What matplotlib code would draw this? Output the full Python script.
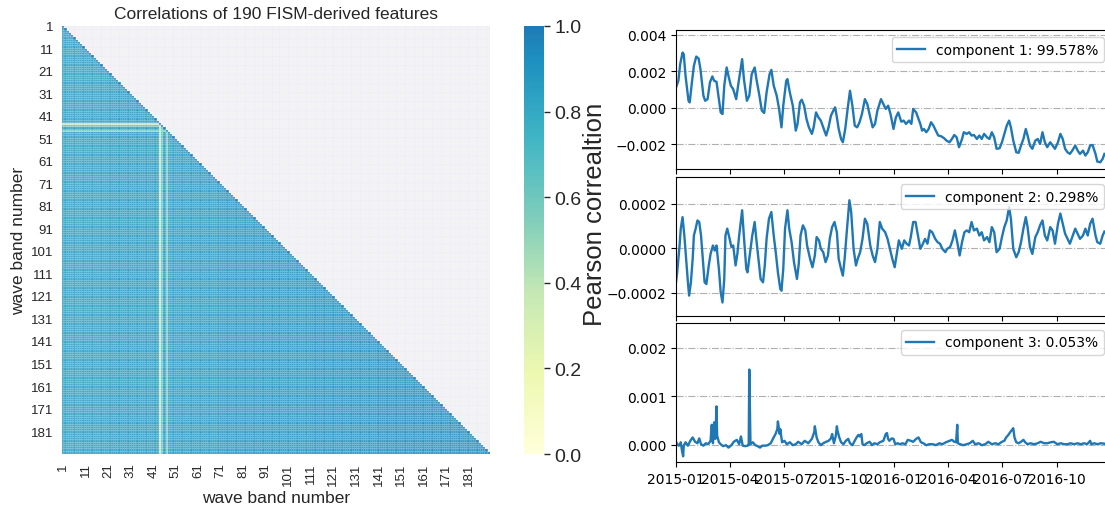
import numpy as np
import pandas as pd
import matplotlib
matplotlib.use("Agg")
import matplotlib.pyplot as plt
import matplotlib.dates as mdates
from matplotlib.colors import ListedColormap
import seaborn as sns

# ---------------- data ----------------
n_bands = 190
band_labels = list(range(1, n_bands + 1))
# correlation level for each block of 10 wave bands (1-10, 11-20, ...)
group_level = [0.86, 0.87, 0.88, 0.88, 0.88, 0.89, 0.89, 0.90, 0.90, 0.91,
               0.91, 0.92, 0.92, 0.92, 0.93, 0.93, 0.93, 0.94, 0.94]
# bands that correlate poorly with the rest
weak_bands = [44, 45, 47]
weak_level = [0.40, 0.65, 0.58]

# PCA components, days after 2015-01-01
comp1_days = [0, 4, 7, 11, 13, 16, 21, 23, 27, 30, 34, 38, 41, 46, 49, 53, 57, 61, 64, 68,
              72, 75, 78, 81, 85, 88, 92, 96, 101, 105, 111, 114, 119, 123, 127, 132, 135, 140, 144, 148,
              152, 157, 160, 164, 169, 173, 177, 180, 185, 187, 191, 196, 201, 204, 208, 211, 215, 219, 223, 228,
              231, 235, 239, 243, 247, 252, 256, 260, 264, 267, 270, 273, 277, 280, 284, 288, 292, 296, 300, 304,
              308, 312, 317, 321, 326, 330, 334, 338, 344, 348, 352, 356, 360, 365, 369, 373, 378, 382, 386, 391,
              395, 398, 403, 406, 410, 413, 416, 420, 424, 428, 432, 436, 440, 445, 450, 454, 459, 463, 467, 471,
              475, 480, 483, 488, 492, 496, 500, 505, 509, 513, 517, 522, 526, 530, 534, 538, 543, 547, 551, 555,
              559, 562, 566, 571, 575, 579, 583, 587, 590, 594, 598, 603, 607, 611, 615, 619, 623, 628, 632, 636,
              641, 645, 649, 653, 657, 661, 665, 670, 674, 678, 683, 687, 691, 695, 699, 704, 707, 712, 716, 719]
comp1_vals = [1.11, 1.48, 2.39, 3.03, 2.94, 1.75, 0.38, 0.29, 1.48, 2.30, 2.81, 2.70, 2.12, 0.66, 0.38, 0.47, 1.39, 1.72, 1.48, 1.42,
              0.47, -0.26, -0.35, 1.21, 2.21, 1.75, 1.21, 1.02, 0.47, 1.39, 2.67, 1.57, 0.38, 0.66, 1.84, 2.21, 1.57, 0.66, -0.16, -0.29,
              0.84, 1.84, 2.08, 1.21, 0.66, -0.07, -1.08, 0.11, 1.48, 1.57, 0.84, 0.11, -1.26, -0.89, 0.29, 0.44, 0.11, -0.62, -1.08, -1.44,
              -1.08, -0.26, -0.53, -0.71, -1.08, -1.53, -1.08, -0.44, -0.16, 0.02, -0.53, -1.17, -1.72, -1.90, -1.17, -0.07, 0.93, 0.11, -0.99, -1.08,
              -0.80, -0.35, 0.47, 0.20, -0.53, -1.08, -0.89, -0.16, 0.47, 0.20, -0.07, 0.11, -0.35, -1.17, -0.53, -0.26, -0.77, -0.71, -0.89, -0.71,
              -0.89, -0.07, -0.26, -0.53, -0.89, -1.26, -1.17, -1.35, -1.17, -0.80, -0.99, -1.26, -1.53, -1.57, -1.68, -1.81, -1.90, -1.72, -1.50, -1.63,
              -2.17, -1.72, -1.35, -1.44, -1.35, -1.53, -1.50, -1.72, -1.53, -1.72, -1.44, -1.63, -1.72, -1.35, -1.63, -2.26, -2.23, -1.90, -1.44, -0.99,
              -0.71, -1.08, -1.81, -2.45, -2.48, -2.08, -1.72, -1.17, -1.53, -2.08, -2.26, -1.81, -1.72, -1.99, -1.35, -1.90, -2.17, -1.90, -2.08, -2.26,
              -1.90, -1.44, -1.72, -2.26, -2.45, -2.54, -2.36, -2.08, -2.36, -2.54, -2.36, -2.63, -2.45, -2.08, -2.05, -2.54, -2.96, -3.00, -2.81, -2.54]

comp2_days = [0, 2, 6, 8, 11, 14, 17, 20, 22, 25, 28, 30, 33, 36, 39, 42, 45, 48, 51, 55,
              58, 62, 65, 68, 72, 75, 78, 81, 83, 86, 90, 93, 96, 100, 103, 106, 111, 114, 118, 120,
              124, 128, 132, 135, 139, 142, 146, 149, 152, 156, 160, 164, 168, 171, 175, 177, 180, 183, 187, 190,
              194, 198, 203, 206, 209, 213, 217, 220, 225, 229, 233, 236, 240, 243, 247, 251, 255, 258, 262, 266,
              270, 273, 277, 280, 283, 287, 291, 294, 298, 302, 305, 309, 313, 317, 321, 326, 330, 334, 338, 342,
              346, 351, 355, 359, 363, 367, 371, 374, 379, 383, 387, 391, 394, 398, 402, 406, 410, 413, 418, 422,
              426, 430, 435, 439, 443, 447, 452, 455, 460, 464, 468, 472, 476, 480, 484, 488, 492, 496, 500, 505,
              509, 513, 517, 522, 526, 530, 534, 538, 543, 547, 551, 555, 559, 562, 566, 571, 575, 579, 583, 587,
              590, 594, 598, 603, 607, 611, 615, 619, 623, 628, 632, 636, 641, 645, 649, 653, 657, 661, 665, 670,
              674, 678, 683, 687, 691, 695, 699, 704, 707, 712, 716, 719]
comp2_vals = [-1.54, -1.09, 0.12, 0.88, 1.40, 0.57, -0.48, -1.54, -2.14, -1.54, -0.48, 0.57, 0.88, 1.25, 1.18, 0.57, -0.48, -1.54, -1.62, -0.78,
              -0.26, 0.12, -0.11, 0.12, -0.94, -1.99, -2.45, -1.39, 0.57, 0.88, 0.42, 0.05, 0.12, -0.78, -0.26, 0.57, 1.71, 0.50, -0.94, -1.09,
              -0.26, 0.57, 1.18, 0.35, -0.63, -1.39, -1.54, -0.78, 0.42, 1.33, 1.63, 0.57, -0.33, -1.09, -1.84, -1.92, -0.94, 0.88, 1.71, 0.88,
              0.27, -0.63, -1.39, -0.71, 0.57, 1.03, 0.80, 0.12, -0.48, -0.86, -0.33, 0.50, 0.35, -0.03, -0.18, -0.63, -0.33, 0.42, 0.95, 1.18,
              0.72, -0.48, -0.94, -1.24, -0.48, 0.88, 2.16, 1.63, -0.03, -0.78, -0.48, -0.18, 0.42, 1.33, 1.10, 0.12, -0.33, -0.63, -0.03, 1.18,
              0.88, 0.72, 0.42, -0.03, -0.48, -0.86, -0.18, 0.35, -0.03, 0.35, 0.20, 0.12, 0.50, 1.18, 1.18, 0.57, -0.03, 0.12, 0.42, 0.20,
              0.80, 0.72, 0.42, 0.27, 0.20, -0.03, -0.18, -0.03, 0.05, 0.35, 0.80, 0.27, -0.33, 0.27, 0.72, 0.80, 0.72, 1.18, 0.80, 0.88,
              0.57, 0.72, 0.35, 0.50, 0.27, 0.95, 0.72, -0.18, -0.03, 0.50, 0.95, 1.25, 1.86, 1.33, -0.03, -0.41, -0.18, 0.27, 0.88, 1.40,
              0.95, 0.05, -0.26, 0.50, 0.72, 1.03, 1.25, 0.57, 0.35, 0.95, 0.80, 0.20, 1.10, 1.56, 1.10, 0.65, 0.42, 0.20, 0.50, 0.88,
              0.65, 0.42, 0.57, 0.88, 0.57, 1.10, 1.33, 0.57, 0.27, 0.20, 0.57, 0.75]

comp3_days = [0, 2, 5, 8, 10, 12, 13, 16, 20, 24, 28, 32, 36, 39, 42, 46, 50, 54, 58, 60,
              62, 64, 66, 68, 69, 72, 75, 79, 84, 88, 93, 97, 102, 106, 109, 112, 116, 120, 122, 123,
              125, 129, 133, 137, 141, 145, 150, 154, 159, 163, 167, 170, 171, 174, 175, 178, 182, 186, 191, 196,
              201, 205, 211, 216, 222, 228, 232, 233, 236, 239, 243, 247, 252, 256, 260, 262, 265, 268, 270, 271,
              274, 277, 281, 285, 289, 292, 296, 300, 303, 306, 308, 311, 313, 316, 320, 325, 329, 333, 338, 342,
              348, 352, 354, 356, 358, 362, 365, 368, 372, 376, 380, 385, 389, 394, 398, 403, 407, 411, 415, 420,
              425, 431, 436, 442, 447, 453, 459, 463, 467, 470, 472, 473, 477, 482, 488, 493, 498, 502, 508, 513,
              519, 524, 530, 536, 541, 547, 551, 554, 557, 561, 566, 568, 571, 575, 579, 583, 586, 590, 595, 601,
              607, 612, 618, 623, 629, 634, 640, 646, 651, 657, 662, 668, 674, 679, 685, 690, 695, 697, 702, 707,
              713, 719]
comp3_vals = [0.06, 0.01, -0.02, 0.05, -0.12, -0.24, -0.02, 0.05, -0.02, 0.08, 0.15, 0.06, 0.03, 0.13, 0.01, -0.02, 0.03, 0.01, 0.08, 0.41,
              0.03, 0.46, 0.12, 0.79, 0.19, 0.05, 0.01, -0.03, -0.01, -0.06, -0.01, 0.06, 0.10, 0.01, 0.17, -0.02, -0.03, -0.02, -0.01, 1.55,
              0.01, 0.05, -0.01, -0.03, -0.06, -0.02, -0.02, -0.01, 0.03, 0.13, 0.22, 0.32, 0.48, 0.22, 0.32, 0.05, 0.08, 0.01, 0.05, -0.01,
              0.01, 0.06, 0.01, 0.08, 0.03, 0.12, 0.26, 0.38, 0.15, 0.05, -0.01, 0.03, 0.06, 0.08, 0.13, 0.22, 0.03, 0.17, 0.38, 0.29,
              0.15, 0.05, 0.01, 0.08, 0.12, 0.03, -0.01, 0.08, 0.15, 0.20, 0.17, 0.22, 0.01, -0.01, 0.03, 0.06, -0.01, 0.03, 0.01, 0.05,
              0.08, 0.22, 0.24, 0.12, 0.08, 0.13, 0.12, 0.01, 0.03, 0.01, 0.03, 0.01, 0.10, 0.08, 0.06, 0.12, 0.15, 0.05, 0.03, -0.01,
              0.01, 0.01, -0.01, 0.03, 0.01, 0.05, 0.08, 0.10, 0.06, 0.05, 0.41, 0.03, 0.01, -0.01, 0.01, 0.03, 0.08, 0.01, 0.03, -0.01,
              0.01, 0.06, 0.01, 0.03, 0.01, 0.06, 0.08, 0.15, 0.19, 0.26, 0.34, 0.15, 0.05, 0.03, 0.06, 0.10, 0.05, 0.01, 0.03, 0.01,
              0.03, 0.06, 0.03, 0.03, 0.05, 0.06, 0.01, 0.03, 0.01, 0.01, 0.03, 0.01, 0.03, 0.01, 0.03, 0.01, 0.08, 0.01, 0.03, 0.01,
              0.03, 0.02]

legend_labels = ["component 1: 99.578%", "component 2: 0.298%", "component 3: 0.053%"]

# ---------------- correlation matrix ----------------
level = np.repeat(group_level, 10)[:n_bands].astype(float)
for b, v in zip(weak_bands, weak_level):
    level[b - 1] = v
corr = np.minimum.outer(level, level)
np.fill_diagonal(corr, 1.0)
corr_df = pd.DataFrame(corr, index=band_labels, columns=band_labels)
mask = np.triu(np.ones_like(corr, dtype=bool), k=1)

cmap = ListedColormap(plt.cm.YlGnBu(np.linspace(0, 0.68, 256)))

fig = plt.figure(figsize=(11.05, 5.10), dpi=100)
ax = fig.add_axes([62 / 1105, 1 - 455 / 510, 428 / 1105, 428 / 510])
cax = fig.add_axes([524 / 1105, 1 - 455 / 510, 20 / 1105, 428 / 510])
ax.set_facecolor("#EAEAF2")

# thin half-transparent white cell borders give the plaid look
sns.heatmap(corr_df, mask=mask, cmap=cmap, vmin=0, vmax=1, linewidths=0.1,
            linecolor=(1, 1, 1, 0.15), ax=ax, cbar_ax=cax, square=False,
            xticklabels=10, yticklabels=10)

lab_font = "Liberation Sans"
ax.set_title("Correlations of 190 FISM-derived features", fontsize=12.5,
             family=lab_font, color="#262626", pad=6)
ax.set_xlabel("wave band number", fontsize=12.5, family=lab_font, color="#262626")
ax.set_ylabel("wave band number", fontsize=12.5, family=lab_font, color="#262626")
ax.tick_params(length=0, pad=6, labelsize=9.5, colors="#262626")
plt.setp(ax.get_xticklabels(), rotation=90, family=lab_font)
plt.setp(ax.get_yticklabels(), rotation=0, family=lab_font)

cax.tick_params(labelsize=14, colors="#262626", length=4, width=1)
plt.setp(cax.get_yticklabels(), family=lab_font)
cax.set_ylabel("Pearson correaltion", fontsize=18.5, family=lab_font, color="#262626")
cax.yaxis.set_label_coords(2.95, 0.563)

# ---------------- PCA component series ----------------
start = pd.Timestamp("2015-01-01")
series = [
    (comp1_days, np.array(comp1_vals) * 1e-3, (-0.00337, 0.00427), [-0.002, 0.0, 0.002, 0.004]),
    (comp2_days, np.array(comp2_vals) * 1e-4, (-0.000306, 0.000321), [-0.0002, 0.0, 0.0002]),
    (comp3_days, np.array(comp3_vals) * 1e-3, (-0.000357, 0.00251), [0.0, 0.001, 0.002]),
]
panel_px = [(31, 170), (178, 317), (324, 463)]
left = 676 / 1105
width = (1111 - 676) / 1105

axes = []
for k, ((days, vals, ylim, yticks), (top, bot)) in enumerate(zip(series, panel_px)):
    a = fig.add_axes([left, 1 - bot / 510, width, (bot - top) / 510])
    dates = start + pd.to_timedelta(days, unit="D")
    a.plot(dates, vals, color="#1f77b4", lw=1.7, label=legend_labels[k])
    a.set_xlim(start, pd.Timestamp("2016-12-31"))
    a.set_ylim(*ylim)
    a.set_yticks(yticks)
    a.yaxis.grid(True, linestyle="-.", color="#b0b0b0", lw=0.8)
    a.xaxis.set_major_locator(mdates.MonthLocator(bymonth=[1, 4, 7, 10]))
    a.xaxis.set_major_formatter(mdates.DateFormatter("%Y-%m"))
    a.tick_params(labelsize=10)
    if k < 2:
        a.tick_params(labelbottom=False)
    a.legend(loc="upper right", fontsize=10)
    axes.append(a)

fig.savefig("out.png", dpi=100)
